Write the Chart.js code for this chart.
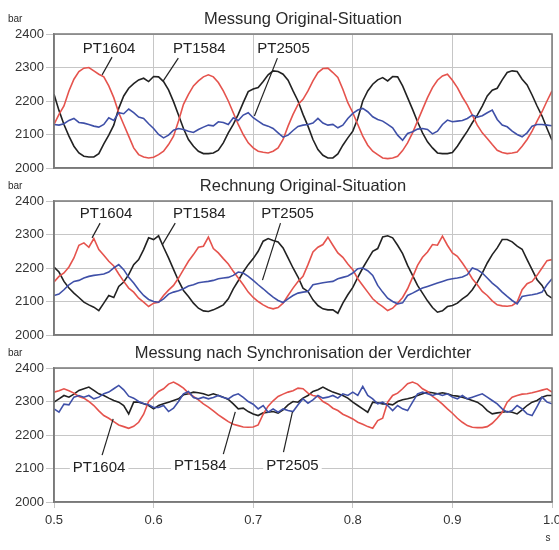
<!DOCTYPE html>
<html>
<head>
<meta charset="utf-8">
<script src="https://cdn.jsdelivr.net/npm/chart.js@4/dist/chart.umd.min.js"></script>
<style>
  body { margin: 0; background: #fff; }
  #wrap { position: relative; width: 559px; height: 550px; }
  canvas { position: absolute; left: 0; top: 0; }
</style>
</head>
<body>
<div id="wrap">
  <canvas id="c1" width="559" height="550"></canvas>
  <canvas id="c2" width="559" height="550"></canvas>
  <canvas id="c3" width="559" height="550"></canvas>
</div>
<script>
// time axis (s)
var times = [
  0.500,0.505,0.510,0.515,0.520,0.525,0.530,0.535,0.540,0.545,
  0.550,0.555,0.560,0.565,0.570,0.575,0.580,0.585,0.590,0.595,
  0.600,0.605,0.610,0.615,0.620,0.625,0.630,0.635,0.640,0.645,
  0.650,0.655,0.660,0.665,0.670,0.675,0.680,0.685,0.690,0.695,
  0.700,0.705,0.710,0.715,0.720,0.725,0.730,0.735,0.740,0.745,
  0.750,0.755,0.760,0.765,0.770,0.775,0.780,0.785,0.790,0.795,
  0.800,0.805,0.810,0.815,0.820,0.825,0.830,0.835,0.840,0.845,
  0.850,0.855,0.860,0.865,0.870,0.875,0.880,0.885,0.890,0.895,
  0.900,0.905,0.910,0.915,0.920,0.925,0.930,0.935,0.940,0.945,
  0.950,0.955,0.960,0.965,0.970,0.975,0.980,0.985,0.990,0.995,
  1.000
];

// Messung Original-Situation (bar)
var mess1PT1604 = [
  2130,2160,2185,2230,2265,2288,2298,2300,2290,2280,
  2272,2245,2210,2165,2130,2095,2060,2040,2033,2030,
  2032,2040,2050,2070,2095,2140,2190,2220,2245,2260,
  2272,2278,2272,2255,2230,2200,2165,2130,2100,2075,
  2060,2050,2047,2045,2050,2060,2085,2125,2160,2190,
  2205,2230,2260,2285,2297,2298,2285,2270,2235,2195,
  2165,2130,2095,2068,2050,2040,2030,2028,2030,2035,
  2052,2075,2105,2140,2175,2210,2240,2262,2275,2280,
  2262,2240,2212,2188,2158,2128,2105,2088,2070,2053,
  2046,2043,2045,2048,2065,2085,2110,2140,2168,2200,
  2230
];
var mess1PT1584 = [
  2220,2172,2130,2095,2065,2045,2035,2033,2033,2043,
  2072,2098,2128,2178,2215,2238,2252,2263,2268,2258,
  2273,2272,2258,2233,2198,2158,2118,2085,2065,2050,
  2043,2043,2045,2053,2075,2105,2130,2160,2195,2228,
  2236,2240,2258,2278,2290,2288,2280,2262,2230,2200,
  2160,2125,2085,2055,2038,2030,2030,2042,2068,2090,
  2110,2148,2200,2230,2250,2263,2270,2260,2273,2272,
  2245,2210,2175,2138,2105,2078,2060,2045,2043,2043,
  2046,2065,2088,2110,2135,2158,2185,2215,2232,2238,
  2263,2285,2290,2288,2265,2248,2218,2185,2155,2118,
  2083
];
var mess1PT2505 = [
  2130,2128,2132,2142,2148,2136,2134,2130,2125,2122,
  2130,2150,2142,2165,2162,2176,2165,2152,2148,2132,
  2118,2100,2090,2098,2113,2118,2115,2110,2106,2115,
  2122,2128,2126,2138,2136,2130,2150,2142,2158,2165,
  2150,2140,2130,2125,2118,2105,2092,2098,2112,2124,
  2128,2130,2134,2148,2134,2128,2130,2120,2128,2148,
  2163,2173,2178,2168,2153,2145,2140,2130,2120,2098,
  2083,2103,2108,2116,2118,2115,2102,2110,2130,2143,
  2138,2140,2142,2148,2158,2152,2156,2165,2173,2145,
  2128,2123,2110,2100,2093,2105,2125,2130,2130,2128,
  2126
];

// Rechnung Original-Situation (bar)
var rech1PT1604 = [
  2158,2175,2185,2203,2230,2268,2275,2262,2288,2255,
  2238,2220,2206,2182,2160,2140,2128,2110,2098,2085,
  2095,2098,2118,2134,2148,2170,2195,2220,2240,2262,
  2265,2292,2258,2245,2228,2212,2190,2170,2150,2128,
  2112,2100,2090,2082,2078,2082,2095,2118,2140,2160,
  2175,2210,2248,2262,2270,2292,2268,2245,2232,2212,
  2195,2168,2148,2128,2108,2095,2085,2073,2080,2095,
  2112,2138,2172,2208,2232,2248,2270,2268,2295,2268,
  2245,2235,2215,2193,2168,2150,2130,2118,2102,2090,
  2087,2086,2088,2098,2135,2153,2160,2178,2200,2222,
  2225
];
var rech1PT1584 = [
  2203,2188,2160,2140,2125,2112,2098,2090,2083,2073,
  2095,2118,2112,2145,2158,2180,2210,2225,2255,2290,
  2285,2296,2262,2230,2196,2162,2133,2115,2095,2080,
  2072,2070,2075,2082,2090,2108,2138,2162,2188,2210,
  2228,2250,2280,2288,2282,2278,2260,2230,2200,2173,
  2140,2130,2105,2088,2078,2075,2075,2065,2095,2120,
  2142,2172,2200,2225,2250,2258,2293,2296,2290,2268,
  2243,2208,2178,2148,2125,2102,2082,2068,2072,2085,
  2088,2095,2108,2118,2135,2158,2185,2215,2240,2260,
  2285,2285,2278,2265,2256,2225,2195,2165,2148,2120,
  2110
];
var rech1PT2505 = [
  2118,2122,2135,2150,2160,2163,2170,2175,2178,2180,
  2182,2188,2200,2210,2195,2172,2155,2135,2118,2106,
  2100,2098,2108,2122,2128,2132,2138,2146,2150,2156,
  2158,2160,2163,2168,2170,2172,2178,2188,2185,2175,
  2163,2150,2138,2125,2113,2103,2097,2108,2118,2125,
  2128,2130,2150,2153,2156,2158,2160,2168,2172,2176,
  2185,2198,2200,2192,2178,2148,2128,2110,2100,2093,
  2096,2118,2125,2133,2140,2145,2150,2155,2160,2165,
  2168,2170,2173,2180,2200,2195,2185,2170,2155,2143,
  2128,2115,2103,2093,2115,2118,2120,2123,2128,2150,
  2168
];

// Messung nach Synchronisation der Verdichter (bar)
var mess2PT1604 = [
  2328,2332,2338,2332,2325,2315,2310,2300,2288,2272,
  2258,2250,2240,2230,2225,2220,2226,2238,2262,2300,
  2315,2330,2338,2352,2358,2350,2340,2325,2315,2305,
  2293,2283,2272,2260,2250,2240,2232,2228,2224,2223,
  2224,2230,2262,2286,2302,2315,2322,2328,2332,2340,
  2338,2325,2318,2315,2300,2292,2280,2273,2262,2255,
  2248,2238,2232,2225,2220,2243,2250,2298,2318,2325,
  2338,2353,2358,2352,2338,2330,2315,2305,2292,2278,
  2265,2250,2238,2228,2223,2222,2222,2225,2235,2250,
  2268,2298,2313,2318,2322,2323,2326,2330,2334,2338,
  2328
];
var mess2PT1584 = [
  2298,2308,2318,2313,2322,2333,2338,2343,2333,2323,
  2318,2310,2303,2298,2288,2263,2298,2298,2293,2288,
  2278,2288,2293,2298,2303,2308,2320,2323,2328,2326,
  2323,2318,2323,2318,2313,2306,2293,2278,2280,2270,
  2263,2258,2266,2268,2270,2265,2275,2290,2300,2298,
  2310,2318,2330,2335,2343,2335,2328,2323,2318,2310,
  2298,2288,2278,2268,2298,2296,2293,2293,2290,2300,
  2305,2308,2312,2318,2323,2328,2326,2323,2326,2323,
  2318,2316,2313,2308,2303,2298,2288,2273,2263,2266,
  2268,2270,2268,2263,2275,2288,2298,2303,2313,2318,
  2318
];
var mess2PT2505 = [
  2278,2268,2292,2290,2313,2318,2313,2318,2308,2313,
  2323,2328,2338,2348,2335,2316,2310,2300,2294,2290,
  2282,2282,2288,2270,2280,2300,2323,2330,2312,2308,
  2313,2308,2312,2318,2312,2308,2318,2323,2312,2300,
  2292,2278,2288,2268,2278,2268,2278,2273,2270,2290,
  2308,2295,2305,2318,2310,2313,2318,2310,2323,2318,
  2328,2318,2345,2318,2308,2293,2298,2288,2273,2288,
  2278,2273,2298,2323,2328,2323,2318,2323,2318,2323,
  2313,2308,2318,2308,2313,2318,2323,2313,2303,2293,
  2278,2268,2273,2288,2278,2263,2258,2285,2313,2298,
  2293
];

var seriesNames = ['PT1604', 'PT1584', 'PT2505'];
var seriesColors = ['#e5534d', '#222222', '#3f50a8'];

// label anchors in data units: [text x, text y, leader from x, y, leader to x, y]
var tagsMess1 = [[0.5553,2355,0.5583,2331,0.5483,2278],
                 [0.6459,2355,0.6248,2328,0.6097,2260],
                 [0.7304,2355,0.7243,2328,0.7012,2155]];
var tagsRech1 = [[0.5523,2361,0.5463,2334,0.5382,2290],
                 [0.6459,2361,0.6217,2334,0.6087,2269],
                 [0.7344,2361,0.7274,2334,0.7093,2164]];
var tagsMess2 = [[0.5453,2101,0.5483,2140,0.5594,2248],
                 [0.6469,2107,0.6700,2143,0.6820,2269],
                 [0.7394,2107,0.7304,2149,0.7394,2269]];

var FONT = 'Liberation Sans, Arial, sans-serif';
Chart.defaults.font.family = FONT;

var panelPlugin = {
  id: 'panel',
  afterDraw: function(chart) {
    var o = chart.options.plugins.panel;
    var ctx = chart.ctx, a = chart.chartArea;
    var sx = chart.scales.x, sy = chart.scales.y;
    ctx.save();
    // frame
    ctx.strokeStyle = '#7a7a7a';
    ctx.lineWidth = 1.5;
    ctx.strokeRect(a.left, a.top, a.right - a.left, a.bottom - a.top);
    // title and unit
    ctx.fillStyle = '#2a2a2a';
    ctx.textBaseline = 'middle';
    ctx.textAlign = 'center';
    ctx.font = '16.5px ' + FONT;
    ctx.fillText(o.title, (a.left + a.right) / 2, a.top - 15);
    ctx.textAlign = 'left';
    ctx.font = '10px ' + FONT;
    ctx.fillText('bar', 8, a.top - 15);
    if (o.unitX) {
      ctx.textAlign = 'center';
      ctx.fillText('s', 548, a.bottom + 36);
    }
    // series tags with leader lines
    ctx.font = '15px ' + FONT;
    o.tags.forEach(function(t, i) {
      var x = sx.getPixelForValue(t[0]), y = sy.getPixelForValue(t[1]);
      var w = ctx.measureText(seriesNames[i]).width;
      ctx.fillStyle = '#fff';
      ctx.fillRect(x - w / 2 - 3, y - 8, w + 6, 16);
      ctx.fillStyle = '#222';
      ctx.textAlign = 'center';
      ctx.fillText(seriesNames[i], x, y);
      ctx.strokeStyle = '#222';
      ctx.lineWidth = 1.2;
      ctx.beginPath();
      ctx.moveTo(sx.getPixelForValue(t[2]), sy.getPixelForValue(t[3]));
      ctx.lineTo(sx.getPixelForValue(t[4]), sy.getPixelForValue(t[5]));
      ctx.stroke();
    });
    ctx.restore();
  }
};

function makePanel(id, title, lists, tags, top, showX) {
  var datasets = lists.map(function(vals, i) {
    return {
      label: seriesNames[i],
      data: vals.map(function(v, k) { return { x: times[k], y: v }; }),
      borderColor: seriesColors[i],
      borderWidth: 1.6,
      pointRadius: 0,
      tension: 0,
      fill: false
    };
  });
  // blue drawn first, then red, then black
  datasets = [datasets[2], datasets[0], datasets[1]];
  return new Chart(document.getElementById(id), {
    type: 'line',
    data: { datasets: datasets },
    options: {
      responsive: false,
      animation: false,
      devicePixelRatio: 1,
      layout: {
        autoPadding: false,
        padding: { top: top, left: 0, right: 7, bottom: 550 - top - 134 - (showX ? 48 : 0) }
      },
      plugins: {
        legend: { display: false },
        tooltip: { enabled: false },
        panel: { title: title, tags: tags, unitX: showX }
      },
      scales: {
        x: {
          type: 'linear', min: 0.5, max: 1.0,
          ticks: {
            stepSize: 0.1, display: showX, color: '#333', padding: 5,
            font: { size: 13 },
            callback: function(v) { return v.toFixed(1); }
          },
          grid: { color: '#c6c6c6', lineWidth: 1, drawTicks: showX, tickLength: 6 },
          border: { color: '#7a7a7a', width: 1.5 },
          afterFit: function(s) {
            s.height = showX ? 48 : 0;
            s.paddingLeft = 0;
            s.paddingRight = 0;
          }
        },
        y: {
          min: 2000, max: 2400,
          ticks: {
            stepSize: 100, color: '#333', padding: 2, font: { size: 13 },
            callback: function(v) { return String(v); }
          },
          grid: { color: '#c6c6c6', lineWidth: 1, tickLength: 8 },
          border: { color: '#7a7a7a', width: 1.5 },
          afterFit: function(s) {
            s.width = 54;
            s.paddingTop = 0;
            s.paddingBottom = 0;
          }
        }
      }
    },
    plugins: [panelPlugin]
  });
}

makePanel('c1', 'Messung Original-Situation', [mess1PT1604, mess1PT1584, mess1PT2505], tagsMess1, 34, false);
makePanel('c2', 'Rechnung Original-Situation', [rech1PT1604, rech1PT1584, rech1PT2505], tagsRech1, 201, false);
makePanel('c3', 'Messung nach Synchronisation der Verdichter', [mess2PT1604, mess2PT1584, mess2PT2505], tagsMess2, 368, true);
</script>
</body>
</html>
